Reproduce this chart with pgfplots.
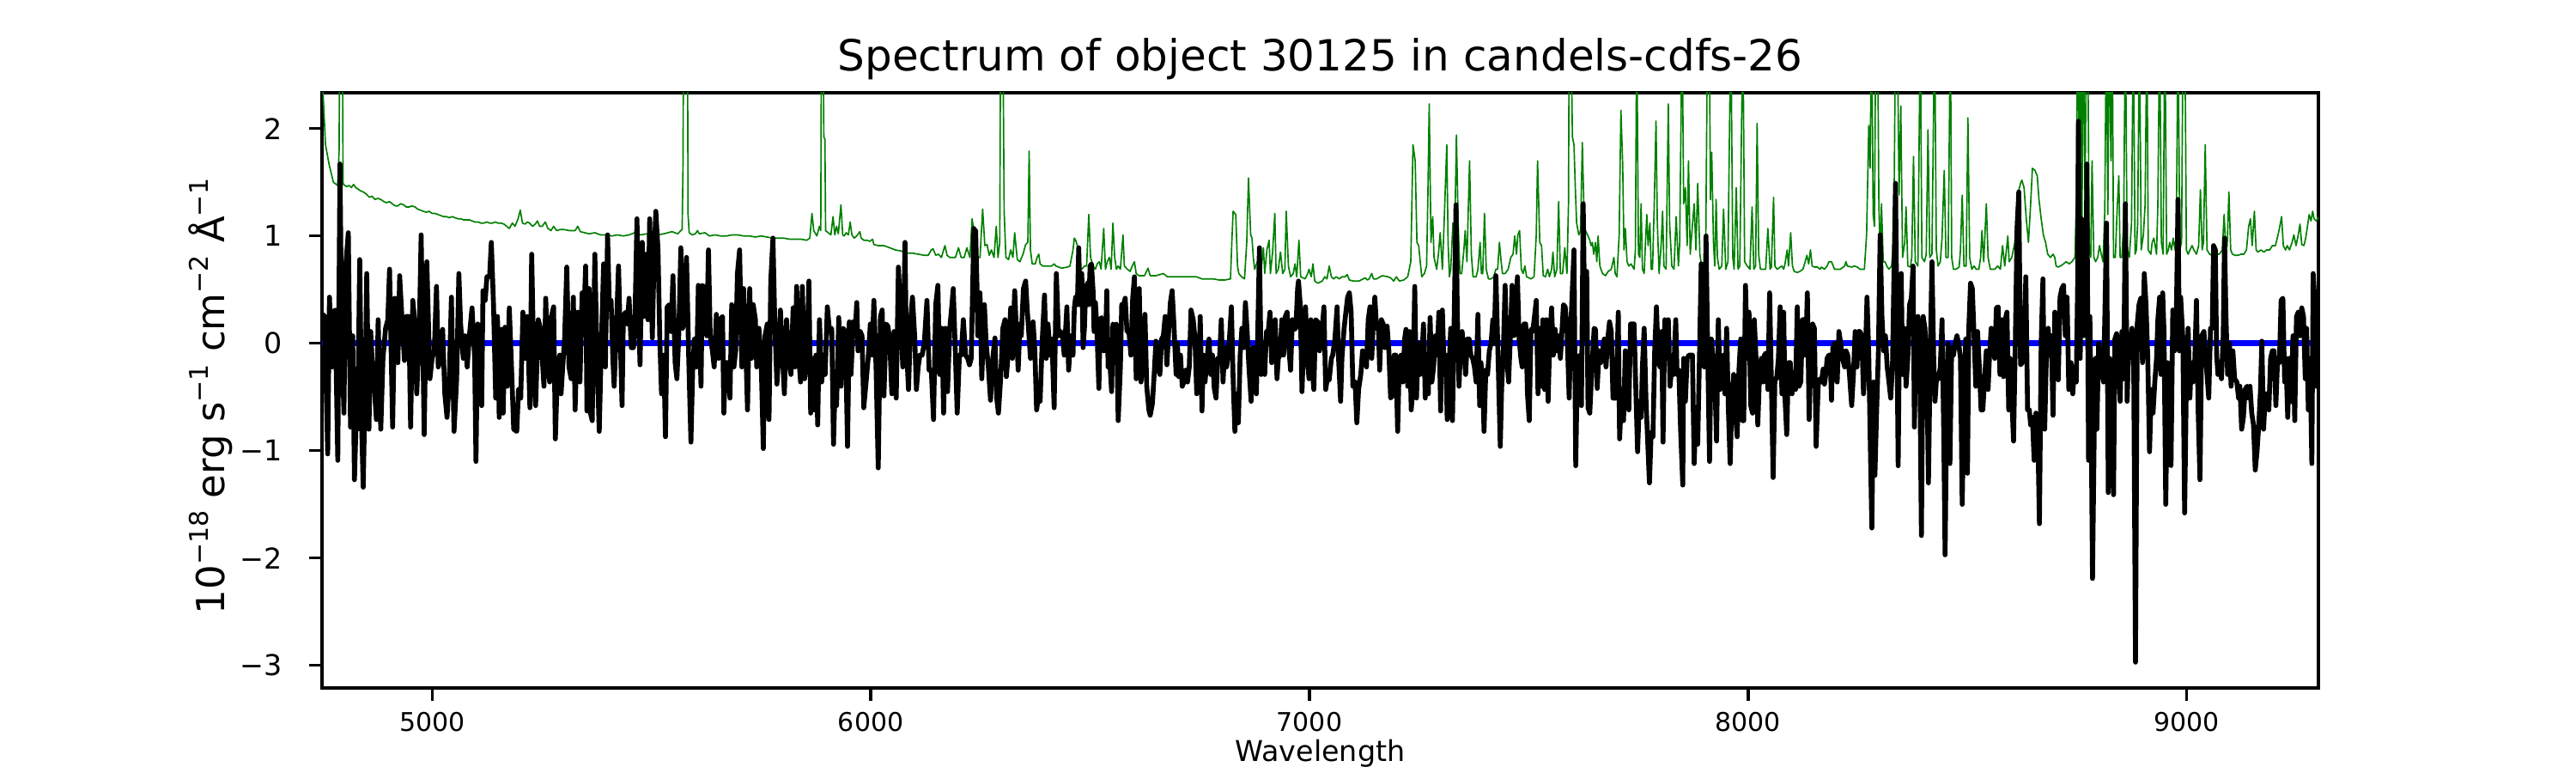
\documentclass[border=0pt]{standalone}
\usepackage{fontspec}
\setmainfont{DejaVu Sans}
\usepackage{pgfplots}
\pgfplotsset{compat=1.18}
\definecolor{mplgreen}{RGB}{0,128,0}
\definecolor{mplblue}{RGB}{0,0,255}
\newcommand{\sups}[1]{\raisebox{0.42em}{\fontsize{7.2}{8}\selectfont #1}}
\begin{document}
\begin{tikzpicture}
\useasboundingbox (-90pt,-23.76pt) rectangle (630pt,192.24pt);
\begin{axis}[
 at={(0,0)}, anchor=south west,
 width=558pt, height=166.32pt, scale only axis,
 xmin=4749, xmax=9300, ymin=-3.21, ymax=2.334,
 axis line style={line width=0.8pt},
 tick align=outside, xtick pos=bottom, ytick pos=left,
 major tick length=3.5pt,
 every tick/.style={black, line width=0.8pt},
 xtick={5000,6000,7000,8000,9000},
 xticklabels={5000,6000,7000,8000,9000},
 ytick={-3,-2,-1,0,1,2},
 yticklabels={−3,−2,−1,0,1,2},
 xticklabel style={font=\fontsize{7.2}{8.5}\selectfont, anchor=base, inner sep=0pt, yshift=-8.7pt},
 yticklabel style={font=\fontsize{8}{9.6}\selectfont, anchor=east, inner sep=0pt, xshift=-7.5pt},
 title={Spectrum of object 30125 in candels-cdfs-26},
 every axis title/.style={at={(axis description cs:0.5,1)}, anchor=base, yshift=6pt, inner sep=0pt, font=\fontsize{12}{14}\selectfont},
 xlabel={Wavelength},
 every axis x label/.style={at={(axis description cs:0.5,0)}, anchor=base, yshift=-20.6pt, inner sep=0pt, font=\fontsize{8}{9.6}\selectfont},
 ylabel={10\sups{−18} erg s\sups{−1} cm\sups{−2} Å\sups{−1}},
 every axis y label/.style={at={(axis description cs:-0.04875,0.49)}, rotate=90, anchor=base, inner sep=0pt, font=\fontsize{10.8}{13}\selectfont},
]
% noise / sky spectrum (green)
\addplot[mplgreen, line width=0.4pt, line join=round] coordinates {
(4749,2.6)(4752,2.28)(4757,1.85)(4765,1.67)(4775,1.50)(4785,1.47)(4788,1.8)(4789.5,3.0)(4795.5,3.0)(4797,1.5)(4798,1.48)(4805,1.46)(4811,1.47)(4816,1.45)(4821,1.48)(4826,1.45)(4830,1.44)(4837,1.42)(4843,1.41)(4850,1.39)(4857,1.36)(4863,1.37)(4870,1.34)(4876,1.35)(4883,1.34)(4890,1.32)(4896,1.31)(4903,1.32)(4909,1.30)(4916,1.28)(4922,1.28)(4928,1.30)(4935,1.29)(4941,1.27)(4948,1.27)(4954,1.28)(4961,1.27)(4967,1.25)(4974,1.24)(4980,1.23)(4987,1.22)(4993,1.23)(5000,1.21)(5007,1.21)(5013,1.20)(5020,1.19)(5026,1.18)(5033,1.18)(5039,1.17)(5046,1.18)(5052,1.17)(5059,1.16)(5065,1.16)(5072,1.15)(5078,1.15)(5085,1.15)(5091,1.14)(5098,1.13)(5105,1.13)(5111,1.12)(5118,1.12)(5125,1.13)(5131,1.12)(5138,1.12)(5144,1.13)(5150,1.12)(5157,1.12)(5164,1.11)(5170,1.09)(5176,1.07)(5183,1.12)(5189,1.09)(5196,1.16)(5201,1.24)(5206,1.12)(5212,1.11)(5217,1.13)(5222,1.12)(5229,1.09)(5235,1.11)(5240,1.14)(5245,1.09)(5251,1.09)(5258,1.13)(5264,1.07)(5271,1.05)(5277,1.09)(5284,1.05)(5292,1.06)(5300,1.06)(5313,1.05)(5326,1.05)
(5332,1.09)(5338,1.04)(5348,1.03)(5358,1.02)(5371,1.03)(5384,1.01)(5397,1.01)(5410,1.00)(5423,1.01)(5436,1.00)(5449,1.01)(5462,1.03)(5476,1.01)(5489,1.02)(5502,1.02)(5515,1.01)(5528,1.02)(5547,1.04)(5560,1.02)(5567,1.05)(5570,1.06)(5572,1.67)(5573,3.0)(5582,3.0)(5583.5,1.2)(5586,1.03)(5593,1.01)(5600,1.02)(5605,1.05)(5609,1.02)(5622,1.03)(5632,1.00)(5645,1.01)(5658,1.00)(5671,1.00)(5684,1.01)(5697,1.01)(5710,1.00)(5724,1.00)(5737,0.99)(5750,1.00)(5763,0.99)(5776,0.98)(5789,0.98)(5802,0.98)(5815,0.97)(5828,0.97)(5841,0.97)(5854,0.96)(5861,0.98)(5866,1.21)(5870,1.05)(5877,1.00)(5883,1.09)(5886,1.05)(5887.5,3.0)(5891,3.0)(5893,1.92)(5895.5,1.9)(5897,1.05)
(5903,1.03)(5909,1.01)(5914,1.18)(5918,1.01)(5922,1.09)(5926,1.02)(5932,1.29)(5936,1.01)(5939,1.00)(5944,1.03)(5949,1.01)(5953,1.13)(5957,1.01)(5962,0.98)(5968,1.00)(5975,1.04)(5978,0.98)(5984,0.96)(5991,0.96)(5998,0.95)(6004,0.97)(6007,0.92)(6017,0.91)(6030,0.91)(6043,0.89)(6056,0.87)(6069,0.86)(6082,0.84)(6095,0.84)(6108,0.83)(6122,0.82)(6131,0.82)(6138,0.87)(6142,0.88)(6148,0.82)(6154,0.83)(6161,0.80)(6169,0.91)(6174,0.82)(6180,0.80)(6193,0.80)(6200,0.89)(6206,0.80)(6213,0.80)(6219,0.89)(6226,0.80)(6231,1.16)(6236,1.01)(6242,0.80)(6249,0.80)(6255,1.25)(6260,0.91)(6265,0.92)(6270,0.82)(6275,0.87)(6281,0.80)(6286,1.09)(6290,0.80)(6294,0.94)(6296,3.0)(6301,3.0)(6304,1.23)(6308,0.80)(6314,0.78)(6319,0.87)(6324,0.80)(6328,1.03)(6334,0.78)(6340,0.76)(6347,0.83)(6353,0.92)(6358,0.94)(6361,1.79)(6364,0.87)(6368,0.74)(6375,0.74)(6379,0.80)(6383,0.83)(6386,0.74)(6392,0.72)(6402,0.72)(6412,0.72)(6418,0.74)(6422,0.72)(6435,0.70)(6448,0.71)(6454,0.72)(6461,0.87)
(6464,0.98)(6467,0.96)(6471,0.91)(6474,0.72)(6481,0.69)(6487,0.72)(6492,0.72)(6497,1.20)(6501,0.80)(6507,0.72)(6512,0.69)(6516,0.74)(6521,0.76)(6525,0.69)(6531,1.07)(6535,0.69)(6539,0.76)(6544,0.80)(6548,0.69)(6552,1.12)(6556,0.80)(6560,0.69)(6564,0.72)(6569,0.69)(6575,1.01)(6578,0.72)(6585,0.69)(6591,0.67)(6596,0.72)(6601,0.76)(6605,0.65)(6611,0.63)(6624,0.63)(6632,0.70)(6637,0.63)(6650,0.63)(6667,0.65)(6676,0.62)(6689,0.62)(6702,0.62)(6715,0.62)(6728,0.62)(6742,0.62)(6755,0.60)(6768,0.60)(6781,0.60)(6794,0.59)(6807,0.59)(6820,0.60)(6823,0.94)(6826,1.23)(6832,1.20)(6836,0.72)(6839,0.65)(6845,0.62)(6852,0.60)(6857,0.94)(6861,1.54)(6866,1.01)(6869,0.98)(6872,0.80)(6875,0.69)(6881,0.76)(6885,0.69)(6890,0.69)(6895,0.89)(6898,0.65)(6903,0.87)(6908,0.96)(6911,0.65)(6916,0.85)(6921,1.21)(6924,0.65)(6929,0.69)(6934,0.85)(6939,0.65)(6944,0.69)(6947,1.23)(6952,0.72)(6957,0.62)(6963,0.65)(6967,0.74)(6971,0.62)(6976,0.96)(6980,0.62)(6990,0.60)(6996,0.65)(6999,0.69)(7004,0.62)(7008,0.74)(7012,0.58)(7019,0.56)(7029,0.58)
(7035,0.62)(7040,0.60)(7045,0.72)(7050,0.62)(7055,0.60)(7061,0.62)(7068,0.60)(7074,0.62)(7081,0.62)(7086,0.64)(7091,0.59)(7100,0.58)(7113,0.58)(7127,0.61)(7132,0.59)(7136,0.60)(7142,0.65)(7146,0.60)(7153,0.60)(7166,0.63)(7179,0.62)(7185,0.61)(7192,0.58)(7198,0.62)(7205,0.58)(7215,0.59)(7224,0.62)(7231,0.76)(7236,1.85)(7241,1.70)(7245,0.94)(7249,0.91)(7252,0.78)(7256,0.62)(7262,0.65)(7267,0.72)(7270,1.38)(7273,2.23)(7277,0.94)(7281,1.18)(7284,0.80)(7290,0.69)(7294,0.83)(7298,1.03)(7303,0.69)(7307,1.12)(7313,1.85)(7316,0.94)(7319,0.62)(7322,0.69)(7327,1.12)(7330,0.72)(7335,1.94)(7339,1.12)(7343,0.65)(7347,0.65)(7352,0.87)(7355,1.05)(7359,0.76)(7365,1.70)(7369,0.83)(7373,0.62)(7380,0.62)(7384,0.69)(7389,0.94)(7392,0.65)(7395,0.65)(7399,1.21)(7403,0.69)(7408,0.60)(7414,0.60)(7420,0.62)(7425,0.69)(7429,0.69)(7433,0.94)(7437,0.76)(7440,0.65)(7446,0.65)(7453,0.69)(7459,0.80)(7464,0.83)(7468,1.00)(7472,0.83)(7475,1.01)(7479,1.05)(7483,0.69)(7487,0.65)(7491,0.72)(7495,0.62)(7505,0.60)(7512,0.62)(7517,1.01)(7520,1.70)(7525,0.94)(7529,0.91)(7533,0.63)(7538,0.62)(7543,0.69)(7547,0.62)(7552,0.69)(7555,0.85)(7559,0.62)(7564,0.69)(7568,1.32)(7572,0.65)(7577,0.65)(7582,0.89)(7587,0.65)(7590.5,1.30)(7592,3.0)(7596,3.0)(7599.5,1.92)(7603,1.85)(7606,1.45)(7609,1.12)(7614,1.01)(7618,1.05)(7622,1.87)(7626,1.20)(7629,1.05)(7634,1.01)(7639,0.96)(7642,0.91)(7645,0.94)(7648,0.83)(7652,0.94)(7655,0.76)(7658,1.00)(7662,0.72)(7668,0.65)(7675,0.63)(7681,0.67)(7688,0.69)(7694,0.80)(7697,0.65)(7701,0.62)(7706,1.01)(7710,2.17)(7714,1.67)(7717,0.87)(7720,1.07)(7724,0.76)(7728,0.72)(7733,0.74)(7740,0.69)(7743,0.87)(7746,3.0)(7750,0.83)(7753,0.80)(7756,1.30)(7759,0.69)(7763,0.65)(7766,0.94)(7769,1.20)(7772,0.91)(7776,1.12)(7779,0.69)(7782,0.69)(7786,1.30)(7790,2.07)(7793,1.12)(7797,0.65)(7802,0.94)(7805,1.23)(7808,0.72)(7813,0.69)(7818,2.23)(7821,1.12)(7826,0.72)(7831,0.69)(7836,1.18)(7841,0.72)(7844,0.94)(7849.5,3.0)(7853,1.30)(7857,1.45)(7861,0.91)(7864,1.70)(7868,0.83)(7872,1.05)(7877,1.30)(7881,0.87)(7885,1.49)(7890,0.83)(7894,0.72)(7898,0.69)(7903,0.72)(7907.5,3.0)(7911.5,3.0)(7914,1.34)(7917,1.78)(7921,0.94)(7924,0.72)(7927,1.34)(7930,0.80)(7934,0.69)(7940,0.72)(7944,1.25)(7949,0.69)(7954,0.76)(7960.5,3.0)(7965,0.80)(7968,0.69)(7973,1.45)(7977,0.69)(7981,0.72)(7988,3.0)(7992,0.76)(7998,0.72)(8004,0.69)(8009,1.27)(8013,0.69)(8017,0.72)(8020.5,2.05)(8024,0.83)(8028,0.69)(8034,0.69)(8040,0.69)(8045,1.07)(8050,0.69)(8053,0.71)(8058,1.36)(8061,0.72)(8066,0.69)(8073,0.71)(8077,0.72)(8081,0.69)(8084,0.74)(8089,0.87)(8092,0.72)(8097,1.03)(8101,0.72)(8105,0.67)(8112,0.66)(8118,0.67)(8125,0.69)(8130,0.76)(8134,0.82)(8138,0.74)(8142,0.87)(8146,0.72)(8151,0.71)(8158,0.71)(8164,0.69)
(8167,0.71)(8174,0.69)(8180,0.72)(8184,0.76)(8190,0.76)(8197,0.69)(8210,0.69)(8220,0.72)(8223,0.76)(8226,0.72)(8236,0.71)(8242,0.72)(8249,0.71)(8255,0.69)(8265,0.69)(8270,1.01)(8275,2.03)(8278,1.63)(8281.5,3.0)(8285,1.20)(8288,1.09)(8291,3.0)(8295,3.0)(8298,1.30)(8301,0.80)(8304,1.30)(8308,0.76)(8312,0.76)(8316,0.72)(8321,0.69)(8327,0.72)(8332,0.94)(8336,3.0)(8340,3.0)(8344,1.38)(8348,2.21)(8352,0.80)(8357,0.94)(8360,1.27)(8364,0.72)(8370,0.71)(8373,0.80)(8377,1.74)(8381,0.76)(8387,0.72)(8392.5,3.0)(8396,0.80)(8402,0.76)(8406,0.83)(8410,1.99)(8414,0.80)(8419,0.83)(8425,3.0)(8429,0.87)(8433,0.72)(8438,0.76)(8442,0.98)(8447,1.61)(8451,0.80)(8456,0.80)(8461,3.0)(8464,0.80)(8468,0.69)(8474,0.69)(8481,0.71)(8484,0.87)(8488,1.38)(8492,0.72)(8497,0.72)(8501,2.10)(8505,0.80)(8510,0.69)(8515,0.72)(8520,0.69)(8526,0.69)(8530,0.80)(8533,1.05)(8537,0.76)(8543,1.30)(8547,0.80)(8552,0.69)(8562,0.69)(8569,0.72)(8575,0.69)(8580,0.91)(8585,0.72)(8592,1.00)(8595,0.76)(8601,0.80)(8608,0.94)(8611,1.23)(8616,1.41)(8621,1.49)(8624,1.52)(8629,1.45)(8634,1.16)(8639,0.94)(8644,1.30)(8648,1.63)(8654,1.61)(8659,1.56)(8663,1.34)(8668,1.16)(8673,1.01)(8678,0.94)(8683,0.83)(8689,0.80)(8695,0.83)(8699,0.80)(8702,0.72)(8707,0.71)(8712,0.72)(8719,0.74)(8725,0.76)(8732,0.74)
(8738,0.76)(8745,0.80)(8748,1.30)(8751,3.0)(8755,1.67)(8758,3.0)(8761,1.12)(8764,3.0)(8768,1.30)(8771,3.0)(8774,3.0)(8777.5,0.87)(8781,0.80)(8784,1.70)(8788,0.80)(8792,0.76)(8797,0.80)(8801,0.91)(8805,0.83)(8809,0.76)(8813,1.23)(8816.6,3.0)(8820,1.20)(8823,3.0)(8827,1.70)(8830,3.0)(8833,0.80)(8837,0.80)(8841,1.23)(8845,1.56)(8848,0.80)(8852,0.80)(8856,1.12)(8860,3.0)(8864,0.87)(8869,0.80)(8874,1.12)(8878,3.0)(8882,0.83)(8885,0.87)(8888,1.12)(8892,3.0)(8896,0.87)(8901,1.01)(8905,1.30)(8909,3.0)(8912,0.87)(8918,0.83)(8921,0.94)(8925,0.98)(8931,0.83)(8934,1.30)(8938,3.0)(8942,0.94)(8946,0.83)(8950,3.0)(8954,0.83)(8958,0.87)(8961,0.94)(8965,0.87)(8969,0.98)(8973,0.87)(8976,1.01)(8980,3.0)(8984,0.87)(8988,0.94)(8991.5,3.0)(8995.5,3.0)(8999,0.87)(9003,0.83)(9007,0.87)(9012,0.91)(9016,0.87)(9022,0.83)(9027,0.91)(9031,1.43)(9035,0.87)(9038,0.94)(9042,1.85)(9046,0.87)(9052,0.83)(9057,0.82)(9061,0.87)(9068,0.83)(9074,0.83)(9081,0.87)(9085,1.20)(9089,0.87)(9092,0.91)(9096,1.41)(9100,0.87)(9104,0.83)(9110,0.82)(9117,0.82)(9123,0.83)(9130,0.83)(9136,0.87)(9141,1.09)(9145,1.16)(9149,0.91)(9154,1.23)(9158,0.87)(9162,0.85)(9169,0.87)(9176,0.85)(9182,0.87)(9189,0.87)(9195,0.91)(9202,0.91)(9208,1.01)(9212,1.09)(9216,1.18)(9220,0.91)(9225,0.87)(9229,0.91)(9234,0.87)(9240,0.94)(9244,1.01)(9249,0.91)(9254,1.01)(9258,1.11)(9262,0.92)(9267,0.91)(9271,0.98)(9275,1.09)(9279,1.20)(9283,1.14)(9287,1.23)(9290,1.16)(9295,1.14)(9298,1.16)(9300,1.18)
};
% zero line (blue)
\addplot[mplblue, line width=1.6pt] coordinates {(4749,0)(9300,0)};
% object spectrum (black)
\addplot[black, line width=1.35pt, line join=round] coordinates {
(4749,0.2)(4751,0.27)(4755,0.25)(4762,-1.03)(4766,0.43)(4772,-0.22)(4775,0.29)(4779,0.31)(4785,-1.09)(4790,1.67)(4794,0.07)(4799,-0.65)(4803,0.72)(4809,1.03)(4814,-0.78)(4819,0.07)(4823,-1.27)(4827,-0.69)(4830,-0.80)(4835,0.78)(4840,-0.87)(4843,-1.34)(4848,-0.22)(4851,0.65)(4856,-0.80)(4860,0.11)(4864,-0.22)(4868,-0.40)(4873,-0.71)(4877,0.22)(4883,-0.80)(4888,-0.14)(4894,0.14)(4899,0.22)(4903,0.69)(4910,-0.78)(4915,0.42)(4922,-0.18)(4926,0.63)(4932,0.18)(4937,-0.16)(4941,0.25)(4947,0.25)(4951,-0.78)(4956,0.40)(4961,0.18)(4965,-0.47)(4971,0.14)(4975,1.01)(4982,-0.85)(4988,0.76)(4995,-0.33)(5000,-0.14)(5005,-0.07)(5010,0.53)(5014,-0.22)(5020,-0.14)(5024,0.13)(5029,-0.47)(5034,-0.69)(5039,-0.36)(5044,0.43)(5050,-0.82)(5056,-0.33)(5061,0.65)(5065,0.18)(5071,-0.14)(5075,0.07)(5080,-0.22)(5085,0.07)(5091,0.33)(5097,-0.14)(5100,-1.10)(5104,0.18)(5109,-0.47)(5113,-0.58)(5116,0.49)(5121,0.40)(5125,0.62)(5131,0.62)(5135,0.94)(5140,0.36)(5145,-0.51)(5149,0.25)(5153,-0.69)(5157,0.13)(5162,-0.65)(5166,0.15)(5171,-0.40)(5176,0.33)(5181,-0.22)(5186,-0.80)(5193,-0.82)(5197,-0.43)(5202,-0.51)(5207,0.29)(5212,-0.14)(5217,0.25)(5223,-0.60)(5227,0.83)(5232,-0.25)(5236,-0.58)(5242,0.22)(5247,0.14)(5251,-0.14)(5255,-0.40)(5259,0.42)(5264,-0.22)(5268,-0.36)(5272,0.25)(5277,0.34)(5281,-0.89)(5286,-0.22)(5291,-0.11)(5294,-0.47)(5299,-0.14)(5302,0.04)(5307,0.71)(5312,-0.22)(5317,-0.33)(5322,0.43)(5326,-0.62)
(5332,0.29)(5337,-0.36)(5342,0.47)(5346,0.25)(5350,0.72)(5353,-0.63)(5358,0.51)(5361,-0.65)(5365,-0.72)(5371,0.83)(5376,-0.14)(5381,-0.82)(5385,-0.14)(5391,0.74)(5395,-0.22)(5400,1.01)(5404,0.36)(5408,0.40)(5412,-0.14)(5415,-0.40)(5420,0.14)(5425,0.72)(5430,-0.11)(5433,-0.58)(5436,0.25)(5441,0.29)(5445,0.18)(5449,0.42)(5454,-0.04)(5459,-0.04)(5462,0.14)(5467,1.16)(5470,0.40)(5474,-0.20)(5479,0.94)(5482,0.25)(5487,0.83)(5492,0.22)(5496,1.16)(5502,0.05)(5506,0.80)(5510,1.23)(5515,0.87)(5519,0.04)(5523,-0.47)(5528,-0.11)(5532,-0.87)(5536,0.34)(5541,0.36)(5545,0.11)(5549,0.63)(5554,-0.18)(5558,-0.33)(5562,0.04)(5567,0.89)(5571,0.14)(5575,0.22)(5580,0.80)(5585,-0.14)(5590,-0.92)(5594,-0.25)(5598,0.04)(5603,-0.22)(5607,0.54)(5613,-0.40)(5616,0.54)(5622,0.51)(5626,0.07)(5630,0.87)(5634,0.07)(5639,-0.07)(5643,-0.22)(5648,0.27)(5653,-0.14)(5656,0.22)(5662,0.25)(5665,-0.65)(5669,-0.18)(5675,-0.18)(5679,-0.51)(5683,0.36)(5688,-0.22)(5692,-0.07)(5696,0.65)(5701,0.87)(5706,-0.22)(5710,0.51)(5714,0.11)(5719,-0.62)(5724,0.51)(5728,-0.14)(5732,0.36)(5737,0.22)(5740,-0.22)(5745,0.14)(5750,-0.14)(5755,-0.98)(5759,0.07)(5764,0.18)(5768,-0.71)(5772,0.58)(5777,0.98)(5781,0.22)(5786,-0.38)(5789,-0.18)(5794,0.31)(5799,-0.14)(5803,-0.47)(5808,0.22)(5813,-0.14)(5818,-0.29)(5823,0.33)(5827,-0.22)(5831,0.53)(5836,-0.14)(5840,-0.36)(5844,0.53)(5849,-0.33)(5854,-0.11)(5859,0.58)(5863,-0.65)(5867,-0.14)(5871,-0.62)(5875,-0.11)(5879,-0.76)(5883,0.22)(5888,-0.36)(5893,-0.14)
(5896,-0.29)(5901,0.34)(5906,0.11)(5911,0.14)(5915,-0.94)(5919,-0.33)(5922,-0.58)(5927,0.24)(5932,-0.40)(5937,0.14)(5942,0.11)(5947,-0.96)(5951,0.20)(5955,-0.29)(5960,0.20)(5964,0.07)(5968,0.38)(5971,-0.07)(5976,0.11)(5980,0.07)(5984,-0.60)(5990,-0.33)(5994,-0.14)(5999,0.18)(6003,-0.11)(6007,0.40)(6012,-0.22)(6017,-1.16)(6022,0.25)(6026,0.31)(6030,-0.49)(6035,0.18)(6039,0.16)(6043,0.04)(6048,-0.47)(6053,0.11)(6058,-0.51)(6063,0.71)(6067,0.36)(6073,-0.22)(6078,0.94)(6081,0.0)(6086,-0.43)(6091,0.22)(6095,0.43)(6100,0.07)(6104,-0.43)(6108,-0.22)(6112,-0.11)(6117,-0.11)(6122,0.0)(6128,0.40)(6133,-0.25)(6138,-0.25)(6143,-0.71)(6148,0.36)(6153,0.54)(6157,-0.29)(6162,0.14)(6166,-0.65)(6170,0.14)(6175,-0.45)(6180,0.14)(6185,0.36)(6188,0.51)(6193,-0.11)(6197,-0.65)(6202,-0.11)(6206,-0.11)(6211,0.22)(6216,-0.11)(6221,-0.14)(6225,-0.20)(6229,-0.14)(6232,0.47)(6235,1.07)(6237,0.5)(6239,1.05)(6242,0.55)(6244,0.07)(6249,0.47)(6253,-0.33)(6259,0.36)(6263,0.0)(6268,-0.22)(6273,-0.53)(6278,-0.14)(6283,0.05)(6287,-0.51)(6291,-0.65)(6296,-0.33)(6301,0.14)(6306,0.22)(6309,-0.31)(6314,-0.07)(6319,0.33)(6323,-0.14)(6328,0.49)(6332,0.11)(6336,-0.25)(6340,0.18)(6343,0.07)(6348,0.51)(6353,0.58)(6356,0.36)(6360,0.11)(6364,-0.14)(6370,0.20)(6374,-0.07)(6378,-0.62)(6383,-0.47)(6386,-0.54)(6391,0.04)(6396,0.45)(6400,-0.14)(6404,0.18)(6409,-0.11)(6413,0.04)(6418,-0.60)(6423,0.65)(6428,0.07)(6433,0.11)(6437,0.07)(6441,-0.11)(6447,0.34)(6451,-0.25)(6456,0.07)(6461,-0.11)
(6464,0.33)(6467,0.43)(6471,0.36)(6474,0.89)(6477,0.36)(6481,0.65)(6484,-0.04)(6487,0.14)(6490,0.51)(6494,0.56)(6497,0.36)(6500,0.72)(6503,0.74)(6507,0.47)(6509,0.11)(6512,0.38)(6515,0.18)(6520,-0.42)(6523,0.22)(6526,0.24)(6531,-0.07)(6535,0.0)(6538,0.49)(6541,-0.22)(6544,-0.11)(6549,-0.45)(6552,0.18)(6556,0.16)(6560,0.18)(6564,-0.72)(6569,-0.22)(6572,0.36)(6575,0.34)(6580,0.42)(6584,0.11)(6588,0.13)(6593,-0.11)(6597,0.42)(6601,0.62)(6605,-0.33)(6608,0.47)(6612,0.51)(6616,-0.36)(6621,-0.07)(6625,0.27)(6629,-0.40)(6634,-0.62)(6637,-0.67)(6642,-0.56)(6646,-0.29)(6650,0.02)(6655,-0.22)(6659,-0.29)(6663,0.04)(6667,0.07)(6671,0.25)(6675,-0.20)(6679,0.11)(6683,0.38)(6687,0.49)(6691,0.18)(6696,-0.29)(6699,0.0)(6702,-0.31)(6706,-0.11)(6710,-0.40)(6714,-0.36)(6718,-0.25)(6722,-0.36)(6726,-0.22)(6730,0.31)(6735,0.22)(6739,0.04)(6743,-0.47)(6747,-0.36)(6751,0.25)(6755,-0.63)(6758,-0.11)(6762,-0.36)(6766,-0.16)(6771,0.04)(6775,-0.29)(6779,-0.11)(6783,-0.42)(6787,-0.51)(6791,-0.14)(6795,-0.14)(6799,0.22)(6803,-0.36)(6807,-0.04)(6811,-0.22)(6815,-0.11)(6818,0.07)(6822,0.34)(6826,-0.33)(6830,-0.82)(6834,-0.47)(6838,-0.74)(6842,-0.11)(6846,0.14)(6850,-0.04)(6854,0.38)(6858,0.11)(6862,-0.22)(6867,-0.54)(6871,-0.04)(6875,-0.11)(6879,-0.47)(6882,0.07)(6886,0.89)(6890,-0.29)(6894,0.0)(6898,-0.29)(6902,0.11)(6906,0.11)(6910,0.29)(6914,-0.18)(6918,-0.11)(6922,0.22)(6926,-0.33)(6929,-0.14)(6933,-0.11)(6937,0.22)(6941,-0.11)(6945,0.25)(6949,0.29)(6953,-0.04)(6957,-0.25)(6961,0.22)(6965,0.13)(6969,0.14)(6973,0.51)(6975,0.58)(6979,0.36)(6983,-0.45)(6987,0.04)(6991,0.34)(6995,-0.14)(6999,-0.33)(7003,0.22)(7006,-0.22)(7010,-0.43)(7014,0.22)(7019,0.20)(7023,-0.07)(7029,0.14)
(7033,0.34)(7037,-0.43)(7042,-0.29)(7045,-0.34)(7050,-0.14)(7053,-0.11)(7058,0.04)(7063,0.34)(7066,-0.11)(7071,-0.54)(7074,-0.14)(7079,0.14)(7083,0.29)(7087,0.43)(7091,0.47)(7095,0.29)(7099,-0.40)(7104,-0.36)(7108,-0.74)(7112,-0.43)(7117,-0.29)(7121,-0.07)(7125,-0.14)(7130,-0.22)(7134,0.22)(7138,0.34)(7142,-0.14)(7146,0.25)(7149,0.43)(7153,0.14)(7157,0.18)(7160,-0.25)(7164,0.22)(7168,0.18)(7172,-0.04)(7177,0.16)(7181,-0.07)(7185,-0.51)(7189,-0.49)(7193,-0.11)(7197,-0.11)(7201,-0.82)(7205,-0.14)(7209,-0.11)(7213,-0.36)(7217,0.04)(7220,0.13)(7224,-0.40)(7228,0.11)(7232,-0.62)(7236,-0.40)(7240,0.53)(7244,-0.51)(7248,0.0)(7252,-0.29)(7256,-0.14)(7260,0.18)(7264,-0.51)(7267,-0.14)(7271,-0.47)(7275,0.24)(7279,-0.36)(7283,-0.22)(7287,0.07)(7291,-0.11)(7295,0.29)(7299,-0.63)(7303,0.31)(7307,-0.25)(7311,-0.11)(7314,-0.71)(7318,-0.25)(7322,0.14)(7326,-0.72)(7330,0.25)(7334,1.29)(7337,0.29)(7341,-0.40)(7344,-0.07)(7348,0.11)(7352,-0.07)(7356,-0.29)(7360,0.04)(7364,0.04)(7368,-0.11)(7372,-0.14)(7376,-0.22)(7380,-0.36)(7384,0.27)(7388,-0.58)(7391,-0.18)(7395,-0.40)(7398,-0.82)(7402,-0.25)(7406,-0.29)(7410,-0.07)(7414,0.0)(7418,0.22)(7421,0.0)(7425,0.63)(7430,-0.14)(7435,-0.96)(7438,-0.43)(7442,-0.07)(7446,0.54)(7450,-0.14)(7454,-0.36)(7458,0.07)(7462,0.54)(7466,0.07)(7470,0.09)(7474,0.62)(7478,0.04)(7482,-0.14)(7485,-0.22)(7489,0.18)(7493,0.18)(7497,-0.47)(7501,-0.72)(7505,0.13)(7509,0.11)(7513,0.25)(7517,0.40)(7521,-0.47)(7525,0.14)(7529,-0.40)(7532,0.22)(7536,-0.43)(7540,0.22)(7544,-0.54)(7548,0.07)(7552,0.33)(7556,-0.11)(7560,0.13)(7564,-0.07)(7568,0.07)(7572,-0.14)(7576,0.14)(7579,0.36)(7583,0.34)(7587,0.14)(7592,-0.51)(7596,0.18)
(7603,0.87)(7607,-1.14)(7611,-0.14)(7616,-0.11)(7620,-0.58)(7624,1.30)(7628,0.04)(7632,0.67)(7635,-0.60)(7639,-0.65)(7644,-0.22)(7649,0.14)(7652,0.13)(7656,-0.42)(7660,-0.07)(7664,-0.18)(7668,-0.07)(7672,0.04)(7676,-0.22)(7680,0.04)(7684,0.20)(7688,0.11)(7692,-0.51)(7696,-0.51)(7699,-0.51)(7704,0.29)(7707,-0.89)(7712,-0.43)(7716,-0.72)(7720,-0.07)(7724,-0.14)(7728,-0.62)(7732,0.18)(7736,0.18)(7740,0.18)(7744,-0.43)(7748,-1.01)(7752,-0.54)(7756,-0.69)(7759,-0.22)(7763,0.14)(7767,-0.51)(7771,-0.91)(7775,-1.30)(7779,-0.83)(7783,-0.87)(7787,-0.07)(7791,0.34)(7795,-0.14)(7799,-0.22)(7803,0.11)(7806,-0.92)(7810,0.22)(7814,-0.14)(7818,0.22)(7822,-0.40)(7826,-0.22)(7830,-0.29)(7835,0.22)(7838,-0.29)(7842,-0.25)(7846,-0.80)(7851,-1.32)(7853,-0.14)(7857,-0.54)(7861,-0.14)(7865,-0.11)(7873,-0.11)(7877,-1.12)(7881,-0.62)(7885,-0.94)(7889,-0.14)(7893,0.74)(7897,-0.14)(7900,-0.22)(7904,1.00)(7908,-0.14)(7912,-1.10)(7916,0.04)(7920,-0.14)(7924,-0.33)(7928,-0.91)(7932,0.22)(7936,-0.43)(7940,-0.25)(7944,-0.11)(7947,-0.47)(7951,0.14)(7955,-0.62)(7959,-1.12)(7963,-0.51)(7967,-0.29)(7971,-0.65)(7975,-0.87)(7979,-0.25)(7983,0.04)(7987,-0.72)(7990,-0.72)(7994,0.54)(7998,-0.14)(8002,0.29)(8006,-0.58)(8010,-0.65)(8014,0.22)(8018,-0.14)(8022,-0.76)(8026,-0.29)(8030,-0.14)(8034,-0.36)(8037,-0.11)(8041,-0.09)(8045,-0.43)(8049,0.47)(8053,-0.36)(8057,-1.25)(8061,-0.33)(8065,-0.33)(8069,-0.14)(8073,0.34)(8077,-0.47)(8081,0.29)(8084,-0.51)(8088,-0.85)(8092,-0.18)(8096,-0.18)(8100,-0.47)(8104,-0.29)(8108,-0.43)(8112,0.34)(8116,-0.40)(8120,-0.36)(8124,0.22)(8128,0.22)(8131,-0.11)(8135,0.47)(8139,-0.71)(8143,-0.14)(8147,0.18)(8151,0.14)(8155,-0.96)(8160,-0.36)(8164,-0.33)
(8167,-0.36)(8171,-0.24)(8174,-0.38)(8177,-0.29)(8180,-0.14)(8184,-0.11)(8187,-0.11)(8190,-0.53)(8193,-0.04)(8197,0.0)(8200,-0.22)(8203,-0.36)(8207,0.11)(8211,0.0)(8215,-0.14)(8220,-0.22)(8223,-0.07)(8227,-0.11)(8231,-0.29)(8236,-0.58)(8240,-0.29)(8244,0.11)(8248,-0.22)(8252,0.11)(8255,0.11)(8259,0.07)(8263,-0.47)(8267,-0.14)(8271,0.43)(8275,-0.11)(8278,-0.83)(8282,-1.72)(8286,-0.36)(8289,-1.23)(8293,-0.62)(8297,-0.07)(8301,1.01)(8305,0.25)(8309,-0.07)(8313,0.07)(8317,-0.22)(8321,-0.36)(8325,-0.51)(8329,-0.22)(8332,0.54)(8336,1.49)(8339,0.22)(8342,-1.14)(8346,0.58)(8349,0.65)(8352,-0.29)(8356,0.14)(8360,-0.40)(8364,-0.14)(8368,0.36)(8372,0.42)(8376,0.72)(8379,-0.78)(8383,0.14)(8387,0.25)(8391,-0.07)(8395,-1.79)(8399,0.25)(8403,0.14)(8407,-0.14)(8411,-1.30)(8415,-0.14)(8419,0.76)(8423,-0.14)(8426,-0.54)(8430,-0.29)(8434,-0.33)(8438,-0.22)(8442,0.22)(8446,-0.87)(8449,-1.97)(8453,-0.43)(8456,0.0)(8460,-1.12)(8464,-0.04)(8468,-0.11)(8472,0.0)(8476,0.07)(8480,0.0)(8484,-0.14)(8488,-1.50)(8492,-0.51)(8496,0.04)(8500,-1.21)(8503,0.14)(8507,0.56)(8511,0.51)(8515,0.07)(8519,-0.40)(8523,0.11)(8527,-0.22)(8531,-0.62)(8535,-0.62)(8539,-0.33)(8543,-0.07)(8547,-0.43)(8550,-0.14)(8554,0.14)(8558,0.0)(8562,-0.14)(8566,0.33)(8570,0.34)(8574,-0.29)(8578,0.22)(8582,-0.31)(8586,0.22)(8590,0.29)(8594,-0.62)(8597,-0.14)(8601,-0.51)(8605,-0.91)(8609,0.0)(8613,1.05)(8617,1.41)(8621,-0.20)(8625,-0.18)(8629,0.0)(8633,0.62)(8637,-0.62)(8641,-0.62)(8644,-0.76)(8648,-0.69)(8652,-1.09)(8656,-0.65)(8660,-0.76)(8664,-1.68)(8668,0.0)(8672,0.60)(8676,-0.80)(8680,-0.11)(8684,0.14)(8688,-0.11)(8691,0.07)(8695,-0.67)(8699,0.29)(8703,0.14)(8707,-0.34)(8711,0.43)(8715,0.51)(8719,0.54)(8723,0.07)(8727,0.43)(8731,-0.43)
(8736,-0.18)(8740,-0.47)(8744,-0.22)(8748,-0.36)(8751,0.51)(8753,2.07)(8757,-0.14)(8760,1.16)(8763,0.07)(8767,0.72)(8770,0.07)(8772,1.67)(8776,-1.09)(8779,0.25)(8782,-0.69)(8785,-2.19)(8789,-0.80)(8792,-0.14)(8795,-0.80)(8799,0.0)(8804,-0.14)(8807,-0.25)(8810,-0.36)(8813,0.22)(8817,1.12)(8821,-1.39)(8824,-0.14)(8828,-0.25)(8833,-1.41)(8836,0.04)(8840,0.09)(8844,-0.11)(8848,-0.54)(8852,0.11)(8856,-0.33)(8860,1.30)(8864,-0.54)(8868,0.04)(8871,-0.07)(8875,0.14)(8879,-0.22)(8883,-2.97)(8887,0.18)(8891,0.36)(8895,0.42)(8899,-0.18)(8903,0.65)(8907,0.36)(8911,-0.14)(8915,-1.01)(8919,-0.43)(8923,-0.65)(8927,-0.36)(8931,-0.14)(8934,0.22)(8938,0.43)(8941,-0.29)(8945,0.47)(8948,0.11)(8952,-1.50)(8956,-0.18)(8960,-1.12)(8964,-1.14)(8968,0.31)(8972,-0.07)(8976,0.22)(8980,1.34)(8983,-0.07)(8986,0.43)(8991,0.04)(8995,-1.58)(8999,-0.36)(9003,0.14)(9007,-0.51)(9010,-0.18)(9014,-0.36)(9018,-0.18)(9022,0.40)(9026,-0.65)(9030,-1.27)(9034,0.07)(9039,0.11)(9042,-0.07)(9046,-0.29)(9050,-0.51)(9054,0.14)(9058,0.14)(9061,0.91)(9065,0.87)(9068,-0.11)(9071,-0.29)(9075,-0.18)(9079,-0.33)(9083,0.07)(9086,0.98)(9089,0.29)(9093,-0.29)(9097,0.0)(9101,-0.40)(9105,-0.07)(9109,-0.33)(9114,-0.36)(9118,-0.51)(9121,-0.40)(9125,-0.80)(9129,-0.69)(9133,-0.43)(9137,-0.40)(9141,-0.51)(9144,-0.40)(9148,-0.65)(9152,-0.76)(9156,-1.18)(9160,-1.01)(9164,-0.76)(9168,-0.43)(9171,0.02)(9175,-0.80)(9179,-0.47)(9183,-0.58)(9187,-0.62)(9191,-0.14)(9195,-0.07)(9199,-0.07)(9203,-0.58)(9207,-0.14)(9211,-0.18)(9215,0.40)(9219,0.42)(9223,-0.36)(9226,-0.14)(9230,-0.69)(9234,-0.14)(9238,-0.54)(9242,0.07)(9246,-0.72)(9250,0.25)(9254,0.29)(9258,0.07)(9262,0.33)(9266,0.25)(9270,-0.33)(9273,0.14)(9277,-0.62)(9281,-0.14)(9285,-1.12)(9288,0.65)(9292,0.36)(9295,-0.40)(9298,0.43)(9300,0.2)
};
\end{axis}
\end{tikzpicture}
\end{document}
